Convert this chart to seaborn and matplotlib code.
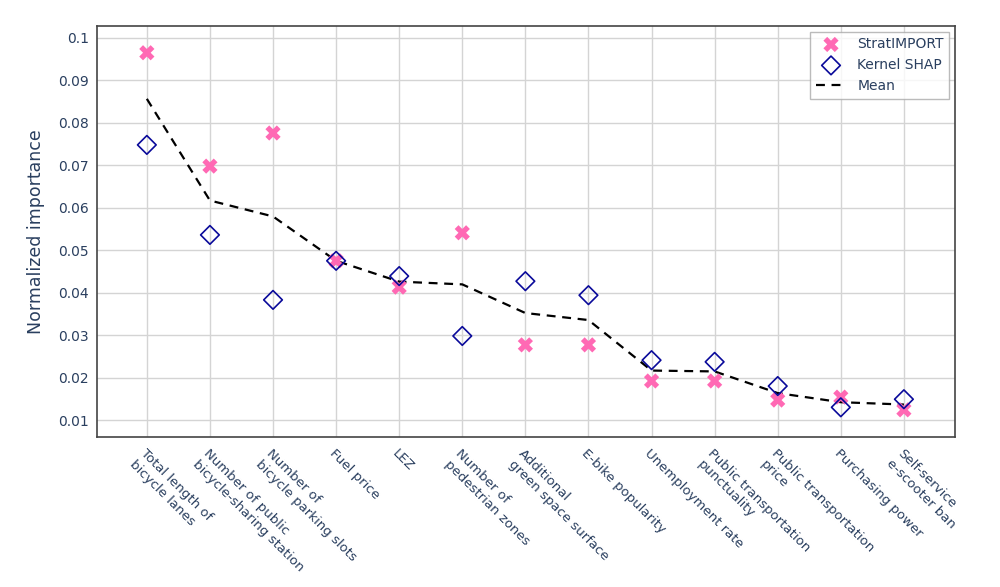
import numpy as np
import pandas as pd
import seaborn as sns
import matplotlib.pyplot as plt
from matplotlib.ticker import FuncFormatter

features = [
    "Total length of\nbicycle lanes",
    "Number of public\nbicycle-sharing station",
    "Number of\nbicycle parking slots",
    "Fuel price",
    "LEZ",
    "Number of\npedestrian zones",
    "Additional\ngreen space surface",
    "E-bike popularity",
    "Unemployment rate",
    "Public transportation\npunctuality",
    "Public transportation\nprice",
    "Purchasing power",
    "Self-service\ne-scooter ban",
]
stratimport = [0.0965, 0.0698, 0.0776, 0.0475, 0.0413, 0.0541, 0.0277,
               0.0277, 0.0192, 0.0192, 0.0147, 0.0154, 0.0124]
kernel_shap = [0.0748, 0.0536, 0.0383, 0.0475, 0.0439, 0.0298, 0.0427,
               0.0394, 0.0241, 0.0237, 0.0180, 0.0130, 0.0149]

df = pd.DataFrame({"feature": features,
                   "StratIMPORT": stratimport,
                   "Kernel SHAP": kernel_shap})
df["Mean"] = (df["StratIMPORT"] + df["Kernel SHAP"]) / 2
df["pos"] = np.arange(len(features))

txt = "#2a3f5f"
sns.set_style("whitegrid")
plt.rcParams["font.family"] = ["DejaVu Sans"]

fig = plt.figure(figsize=(10, 5.87), dpi=100)
ax = fig.add_axes([0.097, 0.2555, 0.858, 0.7002])

sns.lineplot(data=df, x="pos", y="Mean", ax=ax, color="black",
             linestyle=(0, (4, 3)), linewidth=1.6, label="Mean", zorder=2)
sns.scatterplot(data=df, x="pos", y="StratIMPORT", ax=ax, marker="X",
                s=120, color="#ff69b4", edgecolor="none", label="StratIMPORT",
                zorder=3)
sns.scatterplot(data=df, x="pos", y="Kernel SHAP", ax=ax, marker="D",
                s=90, facecolor="none", edgecolor="#0a0a9a", linewidth=1.2,
                label="Kernel SHAP", zorder=4)

ax.set_xlim(-0.79, len(features) - 1 + 0.81)
ax.set_ylim(0.006, 0.1028)
ax.set_yticks(np.arange(0.01, 0.1001, 0.01))
ax.yaxis.set_major_formatter(FuncFormatter(lambda v, p: f"{round(v, 3):g}"))
ax.set_xticks(df["pos"])
ax.set_xticklabels(features)
for lab in ax.get_xticklabels():
    lab.set_rotation(-45)
    lab.set_ha("left")
    lab.set_va("top")
    lab.set_rotation_mode("anchor")
    lab.set_multialignment("left")

ax.tick_params(axis="both", length=0, labelcolor=txt)
ax.tick_params(axis="x", pad=7, labelsize=9.5)
ax.tick_params(axis="y", pad=6, labelsize=10)
ax.set_xlabel("")
ax.set_ylabel("Normalized importance", fontsize=12.5, color=txt, labelpad=9)
ax.grid(True, color="#d4d4d4", linewidth=1)
for sp in ax.spines.values():
    sp.set_color("#444444")
    sp.set_linewidth(1.2)

handles, labels = ax.get_legend_handles_labels()
order = [labels.index(n) for n in ["StratIMPORT", "Kernel SHAP", "Mean"]]
leg = ax.legend([handles[i] for i in order], [labels[i] for i in order],
                loc="upper right", fontsize=10, frameon=True, fancybox=False,
                edgecolor="#aaaaaa", borderaxespad=0.4, handlelength=2.2)
for t in leg.get_texts():
    t.set_color(txt)

fig.savefig("out.png", dpi=100)
